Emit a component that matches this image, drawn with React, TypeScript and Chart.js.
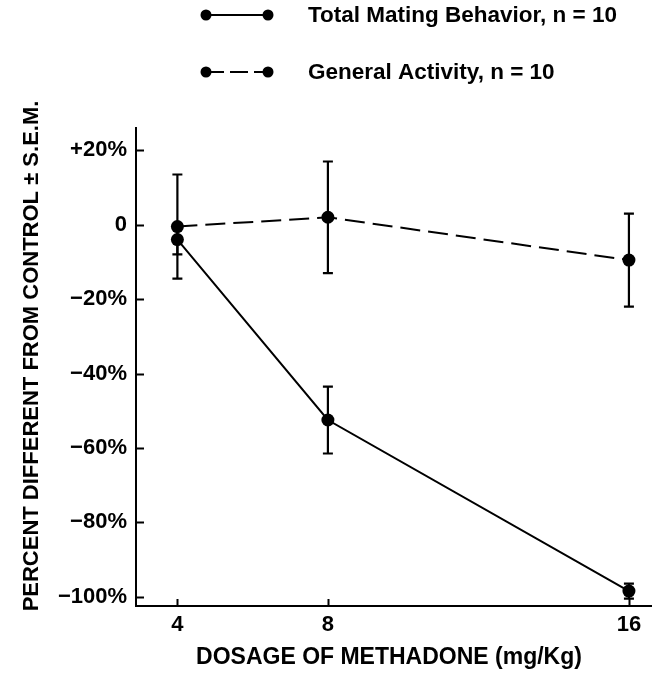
import React, { useEffect, useRef } from "react";
import { Chart, registerables } from "chart.js";
Chart.register(...registerables);

// ---- data ----
const doses = [4, 8, 16];
const matingMean = [-4, -52.5, -98.5];
const matingSem = [4, 9, 2];
const activityMean = [-0.5, 2, -9.5];
const activitySem = [14, 15, 12.5];
const xTicks = [4, 8, 16];
const yTicks = [20, 0, -20, -40, -60, -80, -100];
const seriesLabels = ["Total Mating Behavior, n = 10", "General Activity, n = 10"];
const xTitle = "DOSAGE OF METHADONE (mg/Kg)";
const yTitle = "PERCENT DIFFERENT FROM CONTROL \u00B1 S.E.M.";

const FONT = '"Liberation Sans", Arial, Helvetica, sans-serif';
const INK = "#000";

const fmtY = (v: number) => (v > 0 ? "+" + v + "%" : v === 0 ? "0" : "\u2212" + Math.abs(v) + "%");

const decor = {
  id: "decor",
  beforeDraw(chart: any) {
    const { ctx, width, height } = chart;
    ctx.save();
    ctx.fillStyle = "#fff";
    ctx.fillRect(0, 0, width, height);
    ctx.restore();
  },
  beforeDatasetsDraw(chart: any) {
    const { ctx } = chart;
    const xs = chart.scales.x;
    const ys = chart.scales.y;
    const sems = [matingSem, activitySem];
    const means = [matingMean, activityMean];
    ctx.save();
    ctx.strokeStyle = INK;
    ctx.lineWidth = 2.2;
    ctx.setLineDash([]);
    means.forEach((m, i) => {
      m.forEach((v, j) => {
        const px = xs.getPixelForValue(doses[j]);
        const top = ys.getPixelForValue(v + sems[i][j]);
        const bot = ys.getPixelForValue(v - sems[i][j]);
        ctx.beginPath();
        ctx.moveTo(px, top);
        ctx.lineTo(px, bot);
        ctx.moveTo(px - 5, top);
        ctx.lineTo(px + 5, top);
        ctx.moveTo(px - 5, bot);
        ctx.lineTo(px + 5, bot);
        ctx.stroke();
      });
    });
    ctx.restore();
  },
  afterDraw(chart: any) {
    const { ctx, chartArea } = chart;
    const xs = chart.scales.x;
    const ys = chart.scales.y;
    ctx.save();
    ctx.strokeStyle = INK;
    ctx.fillStyle = INK;
    ctx.lineWidth = 2;
    // inward tick marks
    ctx.beginPath();
    yTicks.forEach((v) => {
      const py = Math.round(ys.getPixelForValue(v)) + 0.5;
      ctx.moveTo(chartArea.left, py);
      ctx.lineTo(chartArea.left + 8, py);
    });
    xTicks.forEach((v) => {
      const px = Math.round(xs.getPixelForValue(v)) + 0.5;
      ctx.moveTo(px, chartArea.bottom);
      ctx.lineTo(px, chartArea.bottom - 7);
    });
    ctx.stroke();

    // legend
    const rows = [15, 72];
    ctx.font = "bold 22.5px " + FONT;
    ctx.textBaseline = "middle";
    ctx.textAlign = "left";
    rows.forEach((y, i) => {
      ctx.beginPath();
      ctx.setLineDash(i === 1 ? [18, 6] : []);
      ctx.lineWidth = 2.2;
      ctx.moveTo(206, y);
      ctx.lineTo(268, y);
      ctx.stroke();
      ctx.setLineDash([]);
      [206, 268].forEach((x) => {
        ctx.beginPath();
        ctx.arc(x, y, 5.5, 0, Math.PI * 2);
        ctx.fill();
      });
      ctx.fillText(seriesLabels[i], 308, y + 1);
    });

    // axis titles
    ctx.textAlign = "center";
    ctx.font = "bold 23px " + FONT;
    ctx.fillText(xTitle, 389, 658);
    ctx.font = "bold 22px " + FONT;
    ctx.translate(32, 356);
    ctx.rotate(-Math.PI / 2);
    ctx.fillText(yTitle, 0, 0);
    ctx.restore();
  },
};

export default function App() {
  const ref = useRef<HTMLCanvasElement | null>(null);
  useEffect(() => {
    document.body.style.margin = "0";
    const canvas = ref.current!;
    const chart = new Chart(canvas, {
      type: "line",
      data: {
        datasets: [
          {
            label: seriesLabels[0],
            data: doses.map((d, i) => ({ x: d, y: matingMean[i] })),
            borderColor: INK,
            backgroundColor: INK,
            borderWidth: 2,
            pointRadius: 6.5,
            pointBorderWidth: 0,
            pointBackgroundColor: INK,
            tension: 0,
          },
          {
            label: seriesLabels[1],
            data: doses.map((d, i) => ({ x: d, y: activityMean[i] })),
            borderColor: INK,
            backgroundColor: INK,
            borderWidth: 2,
            borderDash: [20, 8],
            pointRadius: 6.5,
            pointBorderWidth: 0,
            pointBackgroundColor: INK,
            tension: 0,
          },
        ],
      },
      options: {
        animation: false,
        responsive: false,
        devicePixelRatio: 1,
        layout: { padding: { top: 128, right: 5, left: 0, bottom: 0 } },
        plugins: { legend: { display: false }, tooltip: { enabled: false } },
        scales: {
          x: {
            type: "linear",
            position: "bottom",
            min: 2.9,
            max: 16.6,
            afterBuildTicks: (s: any) => {
              s.ticks = xTicks.map((v) => ({ value: v }));
            },
            afterFit: (s: any) => {
              s.height = 67;
            },
            grid: { display: false, drawTicks: false },
            border: { display: true, color: INK, width: 2 },
            ticks: {
              autoSkip: false,
              maxRotation: 0,
              padding: 6,
              color: INK,
              font: { size: 22, family: FONT, weight: "bold" },
              callback: (v: any) => String(v),
            },
          },
          y: {
            type: "linear",
            min: -102.5,
            max: 26,
            afterBuildTicks: (s: any) => {
              s.ticks = yTicks.map((v) => ({ value: v }));
            },
            afterFit: (s: any) => {
              s.width = 136;
            },
            grid: { display: false, drawTicks: false },
            border: { display: true, color: INK, width: 2 },
            ticks: {
              autoSkip: false,
              padding: 9,
              color: INK,
              font: { size: 22, family: FONT, weight: "bold" },
              callback: (v: any) => fmtY(Number(v)),
            },
          },
        },
      },
      plugins: [decor],
    } as any);
    return () => chart.destroy();
  }, []);
  return (
    <div>
      <canvas ref={ref} width={658} height={673} style={{ display: "block", width: 658, height: 673 }} />
    </div>
  );
}
